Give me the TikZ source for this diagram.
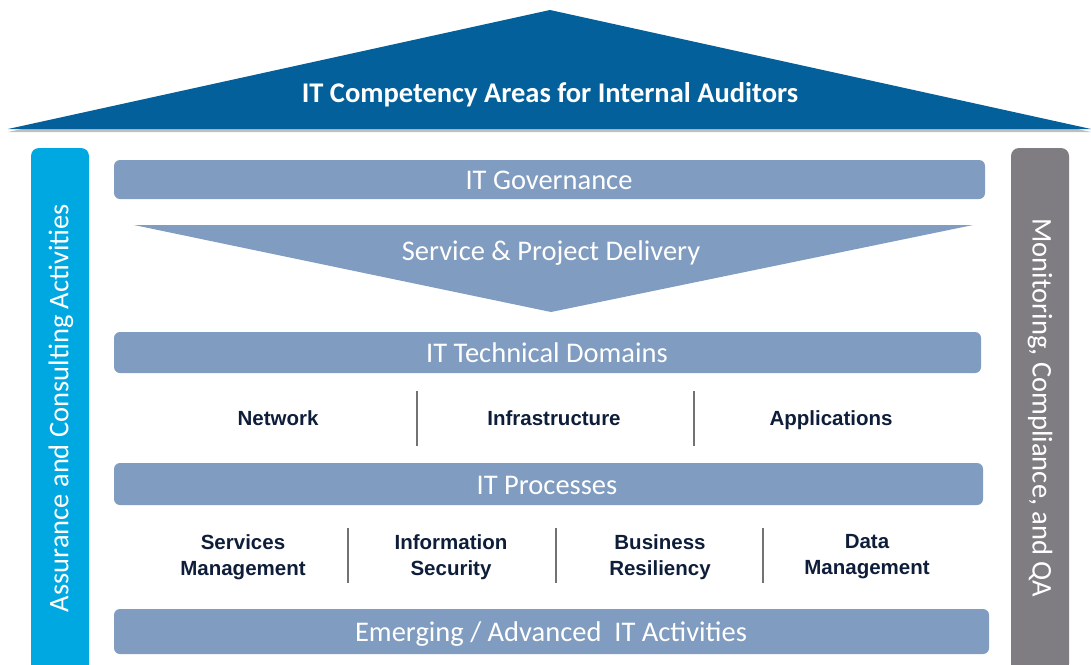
\documentclass[tikz,border=0pt]{standalone}
\usepackage{fontspec}
\setmainfont{Carlito}
\newfontfamily\labelfont{Liberation Sans}
\usepackage{tikz}
\usetikzlibrary{calc, positioning, shapes}

\definecolor{roofblue}{HTML}{03609A}
\definecolor{sideblue}{HTML}{00A8E2}
\definecolor{sidegray}{HTML}{807D82}
\definecolor{barblue}{HTML}{809CC0}
\definecolor{labelnavy}{HTML}{0E1E3A}

\tikzset{
  bar/.style={fill=barblue, draw=none, rounded corners=6pt},
  bartext/.style={text=white, text height=19pt, text depth=6pt, font=\fontsize{28.5}{32}\selectfont},
  pillar/.style={draw=none, rounded corners=8pt},
  pillartext/.style={text=white, font=\fontsize{28.5}{32}\selectfont},
  area/.style={text=labelnavy, align=center, font=\labelfont\bfseries\fontsize{20.5}{26}\selectfont},
  domainlabel/.style={area, text height=15pt, text depth=4pt},
  divider/.style={draw=black!55, line width=1.2pt}
}

\begin{document}
\begin{tikzpicture}[x=1pt, y=-1pt]
                      \useasboundingbox (0,0) rectangle (1091,664);
                      % roof %
                      \fill[black!25] (8,132) -- (550,13) -- (1091,132) -- cycle;
                      \fill[roofblue] (8,129) -- (550,10) -- (1091,129) -- cycle;
                      \node[text=white, text height=19pt, text depth=6pt, font=\bfseries\fontsize{28.5}{32}\selectfont] (roof) at (550,96) {IT Competency Areas for Internal Auditors};

                      % pillars %
                      \fill[pillar, sideblue] (31,148) rectangle (89,672);
                      \fill[pillar, sidegray] (1011,148) rectangle (1069,672);
                      \node[pillartext, rotate=90] (assure) at (61,408) {Assurance and Consulting Activities};
                      \node[pillartext, rotate=-90] (monitor) at (1040,408) {Monitoring, Compliance, and QA};

                      % bars %
                      \fill[bar] (114,160) rectangle (985,199);
                      \node[bartext] (gov) at (549,183) {IT Governance};
                      \fill[barblue] (134,225) -- (973,225) -- (551,312) -- cycle;
                      \node[bartext] (deliv) at (551,254) {Service \& Project Delivery};
                      \fill[bar] (114,332) rectangle (981,373);
                      \node[bartext] (tech) at (547,356) {IT Technical Domains};
                      \fill[bar] (114,463) rectangle (983,505);
                      \node[bartext] (proc) at (547,488) {IT Processes};
                      \fill[bar] (114,609) rectangle (989,654);
                      \node[bartext] (emerg) at (551,635) {Emerging / Advanced\ \ IT Activities};

                      % technical domains %
                      \node[domainlabel] (net) at (278,420) {Network};
                      \node[domainlabel] (infra) at (554,420) {Infrastructure};
                      \node[domainlabel] (apps) at (831,420) {Applications};
                      \draw[divider] (417,391) -- (417,446);
                      \draw[divider] (694,391) -- (694,446);

                      % processes %
                      \node[area] (svc) at (243,557) {Services\\Management};
                      \node[area] (sec) at (451,557) {Information\\Security};
                      \node[area] (res) at (660,557) {Business\\Resiliency};
                      \node[area] (data) at (867,557) {Data\\Management};
                      \draw[divider] (348,528) -- (348,583);
                      \draw[divider] (556,528) -- (556,583);
                      \draw[divider] (763,528) -- (763,583);
                    \end{tikzpicture}
\end{document}
